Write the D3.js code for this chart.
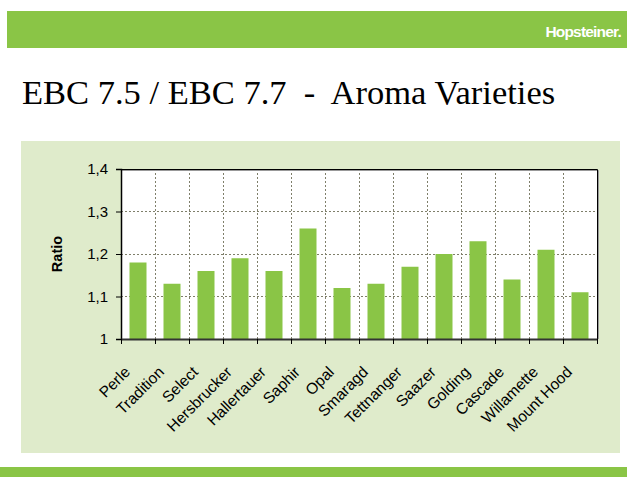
<!DOCTYPE html>
<html><head><meta charset="utf-8">
<script src="https://cdn.jsdelivr.net/npm/d3@7"></script>
<style>html,body{margin:0;padding:0;background:#fff;}svg{display:block;}</style>
</head><body>
<svg id="c" width="627" height="477"></svg>
<script>
const categories = ["Perle","Tradition","Select","Hersbrucker","Hallertauer","Saphir","Opal","Smaragd","Tettnanger","Saazer","Golding","Cascade","Willamette","Mount Hood"];
const ratios = [1.18,1.13,1.16,1.19,1.16,1.26,1.12,1.13,1.17,1.20,1.23,1.14,1.21,1.11];
const yTicks = [1,1.1,1.2,1.3,1.4];
const yTickLabels = ["1","1,1","1,2","1,3","1,4"];
const titleText = "EBC 7.5 / EBC 7.7  -  Aroma Varieties";
const yAxisTitle = "Ratio";
const brand = "Hopsteiner.";

const green = "#8AC546";
const svg = d3.select("#c");

// slide decoration
svg.append("rect").attr("x",7).attr("y",11).attr("width",620).attr("height",37).attr("fill",green);
svg.append("rect").attr("x",0).attr("y",467).attr("width",627).attr("height",10).attr("fill",green);
svg.append("text").attr("x",621).attr("y",37).attr("text-anchor","end")
  .attr("font-family","'Liberation Sans Narrow','Liberation Sans',Arial,sans-serif").attr("font-weight","bold")
  .attr("font-size",15.5).attr("letter-spacing","-0.8").attr("fill","#fff").text(brand);
svg.append("text").attr("x",22).attr("y",104).style("white-space","pre")
  .attr("font-family","'Liberation Serif','Times New Roman',serif").attr("font-size",34.5).attr("fill","#000").text(titleText);

// panel
svg.append("rect").attr("x",21).attr("y",141).attr("width",599).attr("height",312).attr("fill","#DFEBCB");

const m = {l:121, r:597, t:169, b:339};
const x = d3.scaleBand().domain(categories).range([m.l,m.r]).paddingInner(0.5).paddingOuter(0.25);
const xb = d3.scaleBand().domain(categories).range([m.l,m.r]);
const y = d3.scaleLinear().domain([1,1.4]).range([m.b,m.t]);

svg.append("rect").attr("x",m.l).attr("y",m.t).attr("width",m.r-m.l).attr("height",m.b-m.t).attr("fill","#fff");

const g = svg.append("g");
// horizontal grid
g.selectAll(".hg").data(yTicks.slice(1,-1)).join("line")
  .attr("x1",m.l).attr("x2",m.r).attr("y1",d=>Math.round(y(d))+0.5).attr("y2",d=>Math.round(y(d))+0.5)
  .attr("stroke","#7f7f6a").attr("stroke-width",1).attr("stroke-dasharray","2,2");
// vertical grid
g.selectAll(".vg").data(categories.slice(1)).join("line")
  .attr("x1",d=>Math.round(xb(d))+0.5).attr("x2",d=>Math.round(xb(d))+0.5).attr("y1",m.t).attr("y2",m.b)
  .attr("stroke","#7f7f6a").attr("stroke-width",1).attr("stroke-dasharray","2,2");

// bars
g.selectAll(".bar").data(categories).join("rect")
  .attr("x",d=>x(d)).attr("width",x.bandwidth())
  .attr("y",(d,i)=>y(ratios[i])).attr("height",(d,i)=>y(1)-y(ratios[i]))
  .attr("fill",green);

// border top/right
svg.append("path").attr("d",`M${m.l+1},${m.t+1.5}H${m.r+1.5}V${m.b}`).attr("fill","none").attr("stroke","#999").attr("stroke-width",1);
svg.append("path").attr("d",`M${m.l},${m.t+0.5}H${m.r+0.5}V${m.b}`).attr("fill","none").attr("stroke","#000").attr("stroke-width",1);

// y axis
const ya = svg.append("g").attr("transform",`translate(${m.l},0)`)
  .call(d3.axisLeft(y).tickValues(yTicks).tickFormat((d,i)=>yTickLabels[i]).tickSize(5).tickPadding(8));
ya.select(".domain").attr("stroke","#000").attr("stroke-width",1.5);
ya.selectAll(".tick line").attr("stroke","#000");
ya.selectAll("text").attr("font-family","'Liberation Sans',Arial,sans-serif").attr("font-size",15).attr("fill","#000");

// x axis
const xa = svg.append("g").attr("transform",`translate(0,${m.b})`)
  .call(d3.axisBottom(xb).tickSize(0).tickFormat(""));
xa.select(".domain").attr("stroke","#333").attr("stroke-width",2);
const bounds = categories.map(d=>xb(d)).concat([m.r]);
svg.selectAll(".xt").data(bounds).join("line")
  .attr("x1",d=>Math.round(d)+0.5).attr("x2",d=>Math.round(d)+0.5).attr("y1",m.b).attr("y2",m.b+5)
  .attr("stroke","#000");
svg.selectAll(".xl").data(categories).join("text")
  .attr("transform",d=>`translate(${xb(d)+xb.bandwidth()/2-7},${m.b+34}) rotate(-45)`)
  .attr("text-anchor","end")
  .attr("font-family","'Liberation Sans',Arial,sans-serif").attr("font-size",15.5).attr("fill","#000")
  .text(d=>d);

// y title
svg.append("text").attr("transform",`translate(62,${(m.t+m.b)/2}) rotate(-90)`)
  .attr("text-anchor","middle").attr("font-family","'Liberation Sans',Arial,sans-serif")
  .attr("font-weight","bold").attr("font-size",14.5).text(yAxisTitle);
</script>
</body></html>
